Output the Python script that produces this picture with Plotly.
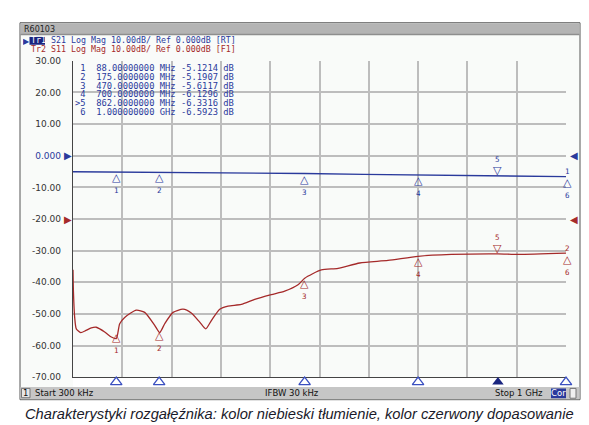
import plotly.graph_objects as go

W, H = 589, 425
def PX(x): return x / W
def PY(y): return 1 - y / H

# ---------------- data ----------------
start_mhz, stop_mhz = 0.3, 1000.0
y_ticks = [-70, -60, -50, -40, -30, -20, -10, 0, 10, 20, 30]
y_ticktext = ["-70.00", "-60.00", "-50.00", "-40.00", "-30.00", "-20.00",
              "-10.00", "0.000", "10.00", "20.00", "30.00"]

s21_freq = [0.3, 88, 175, 320, 470, 590, 700, 862, 905, 1000]
s21_db = [-5.05, -5.12, -5.19, -5.35, -5.61, -5.90, -6.13, -6.33, -6.45, -6.59]

s11_freq = [0.3, 1.2, 3.7, 7.0, 15.9, 26.7, 37.4, 47.5, 64.6, 78.0, 88.1, 95.0,
            105.1, 128.7, 145.7, 166.0, 176.1, 186.2, 203.1, 223.4, 240.2, 257.3,
            269.4, 280.8, 297.8, 314.6, 341.6, 368.8, 402.4, 429.6, 456.6, 470.2,
            503.8, 537.7, 581.7, 639.1, 700.0, 767.4, 862.0, 902.7, 1000.0]
s11_db = [-36.0, -43.0, -51.1, -54.7, -55.9, -55.2, -54.4, -54.2, -55.7, -57.3, -57.8, -53.1,
          -51.1, -48.8, -49.5, -53.6, -55.9, -53.1, -49.5, -48.5, -49.7, -52.6,
          -54.7, -52.1, -48.5, -47.5, -47.0, -45.4, -43.9, -42.8, -40.8, -38.7,
          -36.1, -35.6, -33.9, -33.1, -31.8, -31.2, -31.0, -31.2, -30.8]

mk_num = ["1", "2", "3", "4", "5", "6"]
mk_freq = [88, 175, 470, 700, 862, 1000]
mk_label = ["88.00000000 MHz", "175.0000000 MHz", "470.0000000 MHz",
            "700.0000000 MHz", "862.0000000 MHz", "1.000000000 GHz"]
mk_s21 = [-5.1214, -5.1907, -5.6117, -6.1296, -6.3316, -6.5923]
mk_s11 = [-55.8, -55.2, -38.7, -31.8, -31.0, -30.8]
active_marker = "5"

header1 = " S21 Log Mag 10.00dB/ Ref 0.000dB [RT]"
header2 = "Tr2 S11 Log Mag 10.00dB/ Ref 0.000dB [F1]"
caption = "Charakterystyki rozgałęźnika: kolor niebieski tłumienie, kolor czerwony dopasowanie"

# ---------------- styles ----------------
BLUE = "#2a3a9c"
RED = "#a52a2a"
MBLUE = "#3a4fc0"
GRID = "#bdbdbd"
MONO = "DejaVu Sans Mono"
SANS = "DejaVu Sans"

fig = go.Figure()
fig.add_trace(go.Scatter(x=s21_freq, y=s21_db, mode="lines",
                         line=dict(color=BLUE, width=1.3), hoverinfo="skip"))
fig.add_trace(go.Scatter(x=s11_freq, y=s11_db, mode="lines",
                         line=dict(color=RED, width=1.3, shape="spline", smoothing=0.6),
                         hoverinfo="skip"))

# bottom marker strip
open_idx = [i for i, n in enumerate(mk_num) if n != active_marker]
act_idx = [i for i, n in enumerate(mk_num) if n == active_marker]
fig.add_trace(go.Scatter(x=[mk_freq[i] for i in open_idx], y=[0] * len(open_idx),
                         xaxis="x2", yaxis="y2", mode="markers", cliponaxis=False,
                         marker=dict(symbol="triangle-up-open", size=10,
                                     color=MBLUE, line=dict(width=1.3, color=MBLUE)),
                         hoverinfo="skip"))
fig.add_trace(go.Scatter(x=[mk_freq[i] for i in act_idx], y=[0] * len(act_idx),
                         xaxis="x2", yaxis="y2", mode="markers", cliponaxis=False,
                         marker=dict(symbol="triangle-up", size=10, color="#1a2580"),
                         hoverinfo="skip"))

step = (stop_mhz - start_mhz) / 10
grid_x = [start_mhz + i * step for i in range(11)]

shapes = []
def R(x0, x1, y0, y1, fill, line=None, layer="above"):
    shapes.append(dict(type="rect", xref="paper", yref="paper", x0=PX(x0), x1=PX(x1),
                       y0=PY(y1), y1=PY(y0), fillcolor=fill,
                       line=line or dict(width=0), layer=layer))

R(12, 572, 10, 396, "#f9fbf9", dict(color="#555555", width=1), "below")   # window
R(12.5, 571.5, 10.5, 22, "#b4b4b4", layer="below")                        # title bar
shapes.append(dict(type="line", xref="paper", yref="paper", x0=PX(12.5), x1=PX(571.5),
                   y0=PY(22), y1=PY(22), line=dict(color="#8e8e8e", width=1.5)))
R(21.5, 37, 24.5, 32.5, "#1a2580", layer="below")                         # Tr1 box
R(12.5, 571.5, 383, 395.5, "#c6c6c6", layer="below")                      # status bar
R(13.5, 22, 384.5, 394, "#e6e6e6", dict(color="#777", width=1))
R(543, 558, 384.5, 394.5, "#2a3a9c")
R(562, 568, 384.5, 394.5, "#f0f0f0", dict(color="#777", width=1))
R(65, 558, 373, 383, "#ffffff", layer="below")                            # marker strip

ann = []
def A(x, y, text, size=9, color="#222", family=SANS, xanchor="left", yanchor="middle",
      xref="paper", yref="paper", **kw):
    ann.append(dict(x=x, y=y, text=text, showarrow=False, xref=xref, yref=yref,
                    xanchor=xanchor, yanchor=yanchor,
                    font=dict(size=size, color=color, family=family), **kw))

def NB(s):
    return s.replace(" ", "\u00a0")

A(PX(14), PY(16.5), "R60103", size=8, color="#222")
A(PX(14), PY(28.5), "▶", size=8, color=BLUE, height=8, borderpad=0)

# header (two lines, 8.5 px apart)
hdr = (f"<span style='font-size:8.3px'><span style='color:#ffffff'>Tr1</span>"
       f"<span style='color:{BLUE}'>{NB(header1)}</span></span><br>"
       f"<span style='font-size:8.3px;color:{RED}'>{NB(header2)}</span>")
A(PX(22), PY(32.75), hdr, size=8.5 / 1.3, color=BLUE, family=MONO, borderpad=0,
  align="left")

# marker table (one block, 8.8 px line pitch)
rows = []
for i, n in enumerate(mk_num):
    pre = (">" if n == active_marker else " ") + n
    rows.append(f"<span style='font-size:8.8px'>"
                f"{NB(f'{pre}  {mk_label[i]} {mk_s21[i]:.4f} dB')}</span>")
A(PX(66), PY(57 + 2.5 * 8.8), "<br>".join(rows), size=8.8 / 1.3, color=BLUE,
  family=MONO, borderpad=0, align="left")

# trace markers (one annotation per marker)
TRI_UP = "<span style='font-size:11px;font-family:DejaVu Sans'>△</span>"
TRI_DN = "<span style='font-size:11px;font-family:DejaVu Sans'>▽</span>"
def NUM(s):
    return f"<span style='font-size:7.5px'>{s}</span>"
MK_SIZE = 9.2
for vals, col, tr in ((mk_s21, BLUE, "1"), (mk_s11, RED, "2")):
    for i, n in enumerate(mk_num):
        f, v = mk_freq[i], vals[i]
        if n == active_marker:
            A(f, v, f"{NUM(n)}<br>{TRI_DN}", size=MK_SIZE, color=col, family=MONO,
              xanchor="center", yanchor="bottom", xref="x", yref="y",
              yshift=-2, borderpad=0)
        elif i == len(mk_num) - 1:
            A(f, v, f"{NUM(tr)}<br>{TRI_UP}<br>{NUM(n)}", size=MK_SIZE, color=col,
              family=MONO, xanchor="center", yanchor="middle", xref="x", yref="y",
              yshift=-7, xshift=1, borderpad=0)
        else:
            A(f, v, f"{TRI_UP}<br>{NUM(n)}", size=MK_SIZE, color=col, family=MONO,
              xanchor="center", yanchor="top", xref="x", yref="y",
              yshift=2, borderpad=0)

# reference position arrows
for yv, col in ((0, BLUE), (-20, RED)):
    A(PX(65), yv, "▶", size=10, color=col, xanchor="right", yref="y", xshift=1)
    A(PX(558), yv, "◀", size=10, color=col, xanchor="left", yref="y", xshift=2)

# status bar texts
A(PX(17.7), PY(389.5), "1", size=8.5, color="#111", xanchor="center")
A(PX(25), PY(389.5), "Start 300 kHz", size=8.5, color="#111")
A(PX(284), PY(389.5), "IFBW 30 kHz", size=8.5, color="#111", xanchor="center")
A(PX(537), PY(389.5), "Stop 1 GHz", size=8.5, color="#111", xanchor="right")
A(PX(550.5), PY(389.5), "Cor", size=8.5, color="#ffffff", xanchor="center")

# caption
A(PX(291.5), PY(410.5), f"<i>{caption}</i>", size=14.7, color="#1a1a2a",
  family="Liberation Sans", xanchor="center")

fig.update_layout(
    width=W, height=H, margin=dict(l=0, r=0, t=0, b=0),
    paper_bgcolor="#ffffff", plot_bgcolor="#fbfdfb", showlegend=False,
    shapes=shapes, annotations=ann,
    xaxis=dict(domain=[PX(65), PX(558)], range=[start_mhz, stop_mhz],
               tickvals=grid_x, showticklabels=False, ticks="",
               showgrid=True, gridcolor=GRID, gridwidth=1.5, zeroline=False,
               showline=True, linecolor="#444", linewidth=1.3, mirror=False),
    yaxis=dict(domain=[PY(373), PY(49)], range=[-70, 30],
               tickvals=y_ticks, ticktext=[
                   (f"<span style='color:{BLUE}'>{t}</span>" if t == "0.000" else t)
                   for t in y_ticktext],
               tickfont=dict(family=SANS, size=9, color="#333"),
               ticks="outside", ticklen=9, tickcolor="rgba(0,0,0,0)",
               showgrid=True, gridcolor=GRID, gridwidth=1.5, zeroline=False,
               showline=True, linecolor="#444", linewidth=1.3),
    xaxis2=dict(domain=[PX(65), PX(558)], range=[start_mhz, stop_mhz], anchor="y2",
                visible=False),
    yaxis2=dict(domain=[PY(383), PY(373)], range=[-0.6, 0.6], anchor="x2",
                visible=False),
)

fig.write_html("out.html")
